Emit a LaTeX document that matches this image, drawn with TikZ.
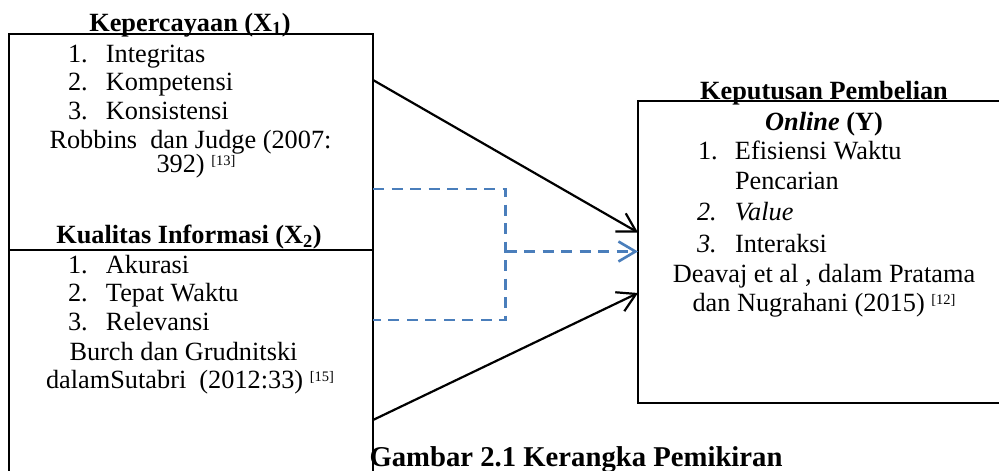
\documentclass[tikz,border=0pt]{standalone}
\usepackage{fontspec}
\setmainfont{Liberation Serif}
\usetikzlibrary{arrows.meta}
\definecolor{wblue}{HTML}{4A7EBB}
\newcommand{\supref}[1]{\raisebox{6.5pt}{\fontsize{14.5}{14.5}\selectfont[#1]}}
\begin{document}
\begin{tikzpicture}[x=1pt,y=-1pt,
  frame/.style={draw,line width=2.3pt,inner sep=0pt,outer sep=0pt,anchor=north west},
  txt/.style={inner sep=0pt,outer sep=0pt,font=\fontsize{26.3}{30}\selectfont},
  ttl/.style={inner sep=0pt,outer sep=0pt,font=\fontsize{26.3}{30}\selectfont\bfseries},
  captxt/.style={inner sep=0pt,outer sep=0pt,font=\fontsize{28.7}{32}\selectfont\bfseries},
  solidarrow/.style={line width=2.2pt,-{Straight Barb[length=18pt,width=21pt]}},
  dashline/.style={wblue,line width=2.6pt,dash pattern=on 11pt off 7.5pt},
  dasharrow/.style={dashline,-{Straight Barb[length=17pt,width=20pt]}}
]
\clip (0,0) rectangle (999,471);
\fill[white] (0,0) rectangle (999,471);

% frames
\node[frame,minimum width=364pt,minimum height=216pt] (b1) at (9,34) {};
\node[frame,minimum width=364pt,minimum height=240pt] (b2) at (9,250) {};
\node[frame,minimum width=380pt,minimum height=302pt] (by) at (638,101) {};

% box 1 text
\node[ttl,anchor=base] (t1) at (190,31) {Kepercayaan (X\textsubscript{1})};
\node[txt,anchor=base west] (i11) at (68,62) {\makebox[38pt][l]{1.}Integritas};
\node[txt,anchor=base west] (i12) at (68,90.5) {\makebox[38pt][l]{2.}Kompetensi};
\node[txt,anchor=base west] (i13) at (68,119) {\makebox[38pt][l]{3.}Konsistensi};
\node[txt,anchor=base] (r1a) at (190.5,148.5) {Robbins\ \ dan Judge (2007:};
\node[txt,anchor=base] (r1b) at (196,172) {392) \supref{13}};

% box 2 text
\node[ttl,anchor=base] (t2) at (189,243.5) {Kualitas Informasi (X\textsubscript{2})};
\node[txt,anchor=base west] (i21) at (68,273) {\makebox[38pt][l]{1.}Akurasi};
\node[txt,anchor=base west] (i22) at (68,301.5) {\makebox[38pt][l]{2.}Tepat Waktu};
\node[txt,anchor=base west] (i23) at (68,330) {\makebox[38pt][l]{3.}Relevansi};
\node[txt,anchor=base] (r2a) at (183.5,360) {Burch dan Grudnitski};
\node[txt,anchor=base] (r2b) at (190,388) {dalamSutabri\ \ (2012:33) \supref{15}};

% box Y text
\node[ttl,anchor=base] (ty1) at (824,99) {Keputusan Pembelian};
\node[ttl,anchor=base] (ty2) at (824,130) {\textit{Online} (Y)};
\node[txt,anchor=base west] (iy1) at (698,159.5) {\makebox[37pt][l]{1.}Efisiensi Waktu};
\node[txt,anchor=base west] (iy1b) at (735,189.5) {Pencarian};
\node[txt,anchor=base west] (iy2) at (697,220) {\itshape\makebox[38pt][l]{2.}Value};
\node[txt,anchor=base west] (iy3) at (697,252) {\makebox[38pt][l]{\itshape 3.}Interaksi};
\node[txt,anchor=base] (ry1) at (824,282) {Deavaj et al , dalam Pratama};
\node[txt,anchor=base] (ry2) at (824,311) {dan Nugrahani (2015) \supref{12}};

% caption
\node[captxt,anchor=base] (caption) at (576,466.5) {Gambar 2.1 Kerangka Pemikiran};

% connector points
\coordinate (a1s) at (373,80);
\coordinate (a1e) at (638,232.5);
\coordinate (a2s) at (373,420);
\coordinate (a2e) at (638,293);
\coordinate (d1) at (373,189);
\coordinate (d2) at (505.5,189);
\coordinate (d3) at (505.5,320);
\coordinate (d4) at (373,320);
\coordinate (dm) at (505.5,251.5);
\coordinate (de) at (638,251.5);

\draw[solidarrow] (a1s) -- (a1e);
\draw[solidarrow] (a2s) -- (a2e);
\draw[dashline] (d1) -- (d2) -- (d3) -- (d4);
\draw[dasharrow] (dm) -- (de);
\end{tikzpicture}
\end{document}
